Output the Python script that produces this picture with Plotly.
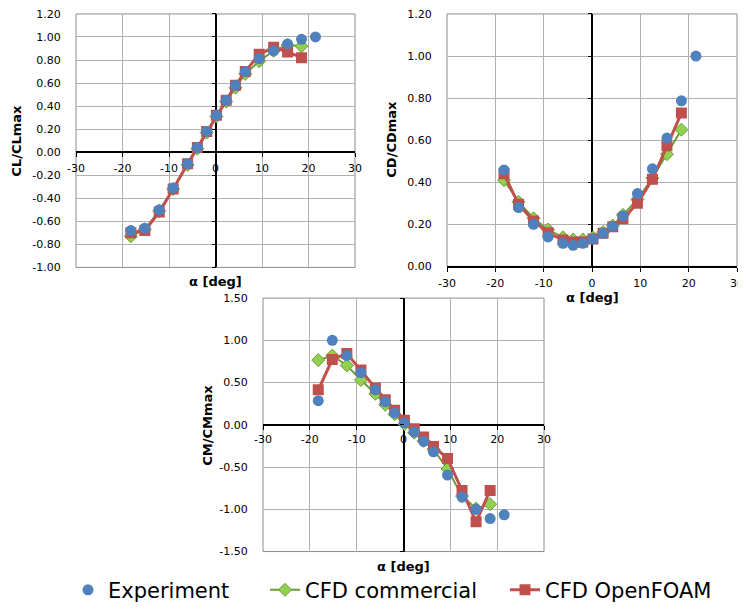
import plotly.graph_objects as go

# ---- data ----
alpha_exp = [-18.2, -15.2, -12.1, -9.1, -6.0, -3.9, -1.9, 0.2, 2.3, 4.3, 6.4, 9.4, 12.5, 15.5, 18.5, 21.5]
alpha_cfd = [-18.2, -15.2, -12.1, -9.1, -6.0, -3.9, -1.9, 0.2, 2.3, 4.3, 6.4, 9.4, 12.5, 15.5, 18.5]

cl_exp = [-0.68, -0.66, -0.50, -0.31, -0.10, 0.04, 0.18, 0.32, 0.45, 0.58, 0.70, 0.81, 0.88, 0.94, 0.98, 1.00]
cl_com = [-0.73, -0.67, -0.51, -0.32, -0.11, 0.03, 0.17, 0.31, 0.44, 0.56, 0.68, 0.79, 0.88, 0.93, 0.92]
cl_of = [-0.70, -0.68, -0.52, -0.32, -0.10, 0.04, 0.18, 0.32, 0.45, 0.58, 0.70, 0.85, 0.91, 0.87, 0.82]

cd_exp = [0.458, 0.28, 0.20, 0.14, 0.11, 0.10, 0.11, 0.13, 0.157, 0.19, 0.24, 0.346, 0.464, 0.61, 0.787, 1.00]
cd_com = [0.41, 0.307, 0.229, 0.175, 0.138, 0.128, 0.128, 0.138, 0.163, 0.194, 0.245, 0.318, 0.42, 0.533, 0.65]
cd_of = [0.44, 0.295, 0.216, 0.16, 0.125, 0.116, 0.116, 0.13, 0.157, 0.188, 0.226, 0.30, 0.414, 0.574, 0.729]

cm_exp = [0.285, 1.00, 0.82, 0.617, 0.414, 0.273, 0.14, 0.023, -0.086, -0.195, -0.32, -0.594, -0.855, -1.00, -1.11, -1.066]
cm_com = [0.766, 0.82, 0.703, 0.53, 0.367, 0.238, 0.125, 0.008, -0.094, -0.19, -0.29, -0.523, -0.844, -0.992, -0.94]
cm_of = [0.414, 0.773, 0.844, 0.65, 0.437, 0.297, 0.172, 0.055, -0.047, -0.145, -0.258, -0.40, -0.777, -1.148, -0.777]

x_ticks = [-30, -20, -10, 0, 10, 20, 30]
cl_ticks = [-1.0, -0.8, -0.6, -0.4, -0.2, 0.0, 0.2, 0.4, 0.6, 0.8, 1.0, 1.2]
cd_ticks = [0.0, 0.2, 0.4, 0.6, 0.8, 1.0, 1.2]
cm_ticks = [-1.5, -1.0, -0.5, 0.0, 0.5, 1.0, 1.5]
x_tick_text = [str(v) for v in x_ticks]

series_names = ["Experiment", "CFD commercial", "CFD OpenFOAM"]
y_titles = ["CL/CLmax", "CD/CDmax", "CM/CMmax"]
x_title = "α [deg]"

# ---- style ----
FONT = "DejaVu Sans"
BLUE = "#4F81BD"
RED = "#C0504D"
GREEN_LINE = "#6E9B3A"
GREEN_FILL = "#92D050"
GRID = "#b0b0b0"
OFF = 8                      # page body margin
W, H = 746 - OFF, 611 - OFF

def px_x(p):
    return (p - OFF) / W

def px_y(p):
    return 1 - (p - OFF) / H

panels = [
    dict(data=(cl_exp, cl_com, cl_of), ticks=cl_ticks, xd=(76, 355), yd=(14, 270), sd=2),
    dict(data=(cd_exp, cd_com, cd_of), ticks=cd_ticks, xd=(447, 737), yd=(14, 269), sd=1),
    dict(data=(cm_exp, cm_com, cm_of), ticks=cm_ticks, xd=(263, 544), yd=(301, 557), sd=0),
]

fig = go.Figure()
layout = dict(width=W, height=H, margin=dict(l=0, r=0, t=0, b=0),
              paper_bgcolor="white", plot_bgcolor="white",
              font=dict(family=FONT, size=11, color="black"),
              showlegend=True)
shapes = []
annotations = []

for i, p in enumerate(panels):
    n = i + 1
    xs = "" if n == 1 else str(n)
    exp, com, of = p["data"]
    xa, ya = "x" + xs, "y" + xs
    fig.add_trace(go.Scatter(x=alpha_cfd, y=com, name=series_names[1], mode="lines+markers",
                             line=dict(color=GREEN_LINE, width=2),
                             marker=dict(symbol="diamond", size=10, color=GREEN_FILL,
                                         line=dict(color=GREEN_LINE, width=1)),
                             xaxis=xa, yaxis=ya, showlegend=(n == 1), legend="legend2"))
    fig.add_trace(go.Scatter(x=alpha_cfd, y=of, name=series_names[2], mode="lines+markers",
                             line=dict(color=RED, width=3),
                             marker=dict(symbol="square", size=11, color=RED),
                             xaxis=xa, yaxis=ya, showlegend=(n == 1), legend="legend3"))
    fig.add_trace(go.Scatter(x=alpha_exp, y=exp, name=series_names[0], mode="markers",
                             marker=dict(symbol="circle", size=11, color=BLUE),
                             xaxis=xa, yaxis=ya, showlegend=(n == 1), legend="legend"))
    # empty trace to activate tick-mark axis at alpha = 0
    fig.add_trace(go.Scatter(x=[], y=[], xaxis=xa, yaxis="y" + str(n + 3),
                             showlegend=False, hoverinfo="skip"))

    x0, x1 = p["xd"]
    ytop, ybot = p["yd"]
    tv = p["ticks"]
    tt = [f"{v:.2f}" for v in tv]
    y0r, y1r = tv[0], tv[-1]
    xdom = [px_x(x0), px_x(x1)]
    ydom = [px_y(ybot), px_y(ytop)]
    zero_y_frac = ydom[0] + (0 - y0r) / (y1r - y0r) * (ydom[1] - ydom[0])
    zero_x_frac = (xdom[0] + xdom[1]) / 2

    xaxis = dict(domain=xdom, range=[x_ticks[0], x_ticks[-1]], tickvals=x_ticks,
                 ticktext=x_tick_text,
                 showline=True, linecolor="black", linewidth=2,
                 ticks="outside", ticklen=4, tickcolor="black", tickwidth=1,
                 ticklabelstandoff=p["sd"], ticklabeloverflow="allow",
                 showgrid=True, gridcolor=GRID, gridwidth=1,
                 zeroline=True, zerolinecolor="black", zerolinewidth=2,
                 tickfont=dict(family=FONT, size=11), layer="below traces",
                 automargin=False, fixedrange=True)
    if y0r == 0:
        xaxis.update(anchor=ya)
    else:
        xaxis.update(anchor="free", position=zero_y_frac)
    yaxis = dict(domain=ydom, range=[y0r, y1r], tickvals=tv, ticktext=tt,
                 anchor=xa, showline=False, ticks="outside", ticklen=12,
                 ticklabeloverflow="allow",
                 tickcolor="rgba(0,0,0,0)", showgrid=True, gridcolor=GRID, gridwidth=1,
                 zeroline=False, tickfont=dict(family=FONT, size=11),
                 layer="below traces", automargin=False, fixedrange=True)
    layout["xaxis" + xs] = xaxis
    layout["yaxis" + xs] = yaxis
    # tick marks on the vertical axis at alpha = 0
    layout["yaxis" + str(n + 3)] = dict(overlaying=ya, anchor="free", position=zero_x_frac,
                                        side="left", range=[y0r, y1r], tickvals=tv,
                                        showline=False, ticks="outside", ticklen=4,
                                        tickcolor="black", tickwidth=1,
                                        showticklabels=False, showgrid=False, zeroline=False,
                                        automargin=False, fixedrange=True)
    shapes.append(dict(type="rect", xref=xa + " domain", yref=ya + " domain",
                       x0=0, x1=1, y0=0, y1=1, line=dict(color="#8c8c8c", width=1),
                       layer="below"))

annotations += [
    dict(text="<b>" + y_titles[0] + "</b>", x=px_x(17), y=px_y(142), textangle=-90),
    dict(text="<b>" + x_title + "</b>", x=px_x(215.5), y=px_y(284)),
    dict(text="<b>" + y_titles[1] + "</b>", x=px_x(392), y=px_y(141), textangle=-90),
    dict(text="<b>" + x_title + "</b>", x=px_x(592), y=px_y(300)),
    dict(text="<b>" + y_titles[2] + "</b>", x=px_x(208), y=px_y(429), textangle=-90),
    dict(text="<b>" + x_title + "</b>", x=px_x(403.5), y=px_y(572)),
]
for a in annotations:
    a.update(xref="paper", yref="paper", showarrow=False, xanchor="center", yanchor="middle",
             font=dict(family=FONT, size=13, color="black"))

layout["shapes"] = shapes
layout["annotations"] = annotations
leg = dict(orientation="h", xanchor="left", y=px_y(596), yanchor="middle",
           font=dict(family=FONT, size=21, color="black"),
           bgcolor="rgba(0,0,0,0)", itemwidth=30)
layout["legend"] = dict(leg, x=px_x(108 - 40))
layout["legend2"] = dict(leg, x=px_x(305 - 40))
layout["legend3"] = dict(leg, x=px_x(545 - 40))
fig.update_layout(**layout)
fig.write_html("out.html")
